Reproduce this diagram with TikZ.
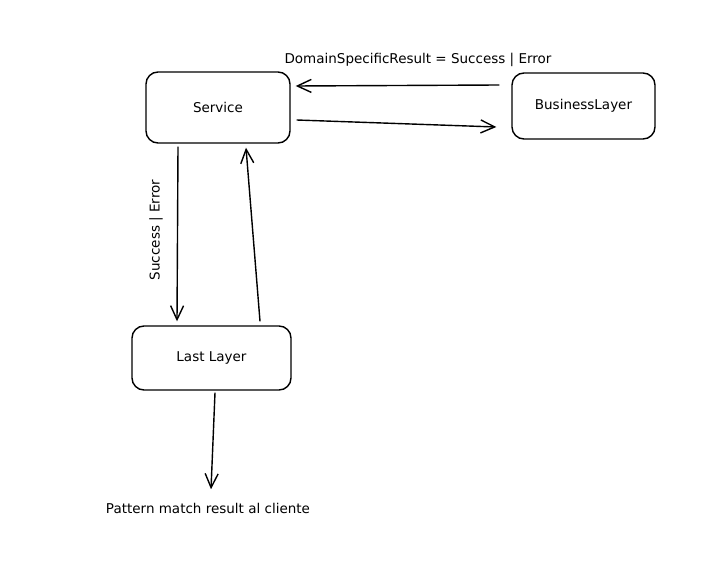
\documentclass[tikz,border=0pt]{standalone}
\usepackage{fontspec}
\setmainfont{DejaVu Sans}
\usetikzlibrary{arrows.meta, positioning}

\begin{document}
\begin{tikzpicture}[x=1pt, y=-1pt,
  box/.style={draw, rounded corners=12pt, line width=1.4pt},
  arr/.style={line width=1.4pt, -{Straight Barb[length=14pt, width=13pt]}},
  lbl/.style={font=\fontsize{13.5}{16}\selectfont}]

\useasboundingbox (0,0) rectangle (711,569);

% the three layers
\node[box, lbl, minimum width=144pt, minimum height=71pt] (service) at (218,107.5) {Service};
\node[box, lbl, minimum width=143pt, minimum height=66pt] (business) at (583.5,106) {BusinessLayer};
\node[box, lbl, minimum width=159pt, minimum height=64pt] (last) at (211.5,358) {Last Layer};

% Service <-> BusinessLayer
\draw[arr] ([shift={(-12,-21)}]business.west) -- ([shift={(5,-21.5)}]service.east);
\draw[arr] ([shift={(6,12.5)}]service.east) -- ([shift={(-15,21)}]business.west);
\node[lbl] (result) at (418,60) {DomainSpecificResult = Success | Error};

% Service <-> Last Layer
\draw[arr] ([shift={(-40,3)}]service.south) -- ([shift={(-34.5,-4)}]last.north);
\draw[arr] ([shift={(48.5,-4)}]last.north) -- ([shift={(28,4)}]service.south);
\node[lbl, rotate=90] (successerror) at (156,230) {Success | Error};

% out to the client
\node[lbl] (client) at (208,508) {Pattern match result al cliente};
\draw[arr] ([shift={(3.5,2)}]last.south) -- ([shift={(3,-10)}]client.north);

\end{tikzpicture}
\end{document}
